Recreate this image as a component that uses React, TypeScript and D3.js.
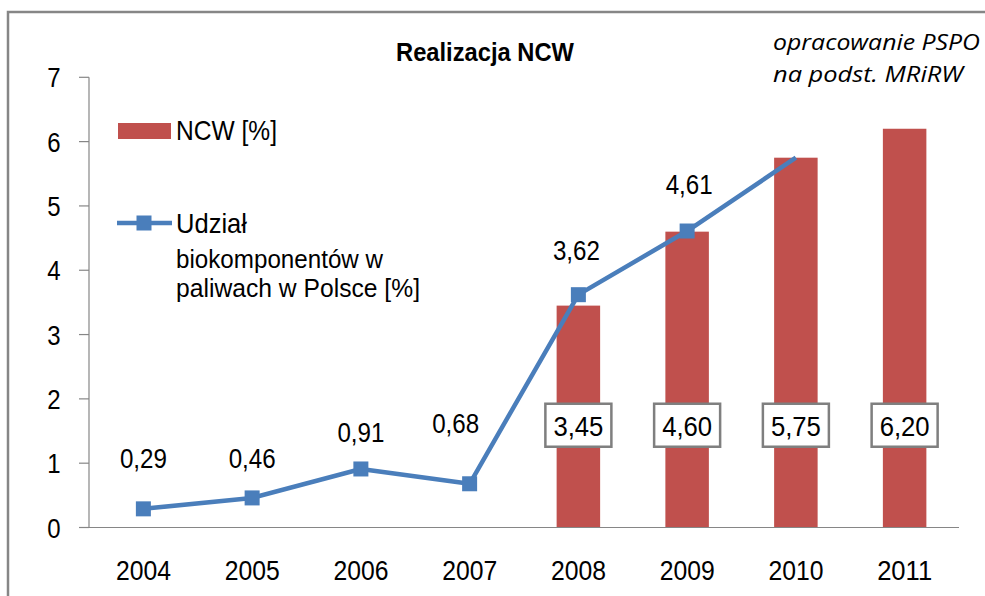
import React from "react";
import * as d3 from "d3";

const years = ["2004", "2005", "2006", "2007", "2008", "2009", "2010", "2011"];
const ncwValues: (number | null)[] = [null, null, null, null, 3.45, 4.6, 5.75, 6.2];
const ncwLabels: (string | null)[] = [null, null, null, null, "3,45", "4,60", "5,75", "6,20"];
const shareValues: (number | null)[] = [0.29, 0.46, 0.91, 0.68, 3.62, 4.61, 5.75, null];
const shareLabels: (string | null)[] = ["0,29", "0,46", "0,91", "0,68", "3,62", "4,61", null, null];
const yTicks = [0, 1, 2, 3, 4, 5, 6, 7];

const title = "Realizacja NCW";
const sourceLines = ["opracowanie PSPO", "na podst. MRiRW"];
const legendBar = "NCW [%]";
const legendLine = ["Udział", "biokomponentów w", "paliwach w Polsce [%]"];

// layout constants (pixels)
const W = 985;
const H = 596;
const PLOT = { left: 89, right: 959, top: 77.3, bottom: 527.5 };
const labelShift: [number, number][] = [
  [0, -51], [0, -40], [0, -37], [-14, -61], [-2, -45], [2, -48], [0, 0], [0, 0],
];
const BOX_VALUE = 1.59;

const RED = "#C0504D";
const BLUE = "#4A7EBB";
const GRAY = "#868686";
const FONT = "'Liberation Sans', Arial, sans-serif";

function T(props: {
  x: number; y: number; text: string; size?: number; len?: number;
  anchor?: string; sy?: number; weight?: string | number; italic?: boolean; family?: string;
}) {
  const { x, y, text, size = 24, len, anchor = "middle", sy = 1.18, weight = "normal", italic = false, family = FONT } = props;
  return (
    <text
      transform={`translate(${x},${y}) scale(1,${sy})`}
      fontSize={size}
      fontFamily={family}
      fontWeight={weight}
      fontStyle={italic ? "italic" : "normal"}
      textAnchor={anchor}
      fill="#000"
      {...(len ? { textLength: len, lengthAdjust: "spacingAndGlyphs" } : {})}
    >
      {text}
    </text>
  );
}

export default function App() {
  const x = d3.scaleBand<string>().domain(years).range([PLOT.left, PLOT.right]).paddingInner(0.6).paddingOuter(0.3);
  const xc = (c: string) => (x(c) as number) + x.bandwidth() / 2;
  const y = d3.scaleLinear().domain([0, 7]).range([PLOT.bottom, PLOT.top]);

  const linePts = years
    .map((c, i) => ({ c, v: shareValues[i], i }))
    .filter((d) => d.v !== null) as { c: string; v: number; i: number }[];
  const lineGen = d3.line<{ c: string; v: number }>().x((d) => xc(d.c)).y((d) => y(d.v));

  const mk = 15;

  return (
    <svg width={W} height={H} style={{ position: "absolute", left: 0, top: 0, background: "#fff" }}>
      <rect x={0} y={0} width={W} height={H} fill="#fff" />
      {/* outer frame */}
      <rect x={8} y={12} width={1000} height={700} fill="none" stroke={GRAY} strokeWidth={2.5} />

      {/* title */}
      <T x={396} y={61} text={title} size={23} len={178} anchor="start" weight="bold" sy={1.12} />

      {/* source note */}
      <T x={773} y={50} text={sourceLines[0]} size={22} len={207} anchor="start" italic family="'Open Sans', sans-serif" sy={1} />
      <T x={773} y={82} text={sourceLines[1]} size={22} len={190} anchor="start" italic family="'Open Sans', sans-serif" sy={1} />

      {/* y axis */}
      <line x1={PLOT.left} x2={PLOT.left} y1={y(7)} y2={y(0)} stroke={GRAY} strokeWidth={1.2} />
      {yTicks.map((t) => (
        <g key={t}>
          <line x1={79} x2={PLOT.left} y1={y(t)} y2={y(t)} stroke={GRAY} strokeWidth={1.2} />
          <T x={54} y={y(t) + 10} text={String(t)} />
        </g>
      ))}

      {/* bars */}
      {years.map((c, i) =>
        ncwValues[i] !== null ? (
          <rect key={c} x={x(c)} y={y(ncwValues[i] as number)} width={x.bandwidth()} height={y(0) - y(ncwValues[i] as number)} fill={RED} />
        ) : null
      )}

      {/* x axis */}
      <line x1={79} x2={PLOT.right} y1={y(0)} y2={y(0)} stroke={GRAY} strokeWidth={1.2} />
      {years.map((c) => (
        <T key={c} x={xc(c)} y={579.5} text={c} len={55} />
      ))}

      {/* line */}
      <path d={lineGen(linePts) || ""} fill="none" stroke={BLUE} strokeWidth={4.5} strokeLinejoin="round" />
      {linePts.filter((d) => shareLabels[d.i] !== null).map((d) => (
        <rect key={d.c} x={xc(d.c) - mk / 2} y={y(d.v) - mk / 2} width={mk} height={mk} fill={BLUE} />
      ))}
      {linePts.filter((d) => shareLabels[d.i] !== null).map((d) => (
        <T key={d.c} x={xc(d.c) + labelShift[d.i][0]} y={y(d.v) + labelShift[d.i][1] + 10.5} text={shareLabels[d.i] as string} len={47} />
      ))}

      {/* NCW value boxes */}
      {years.map((c, i) =>
        ncwLabels[i] !== null ? (
          <g key={c}>
            <rect x={xc(c) - 33} y={y(BOX_VALUE) - 21.5} width={66} height={43} fill="#fff" stroke="#7F7F7F" strokeWidth={2.5} />
            <T x={xc(c)} y={y(BOX_VALUE) + 10.5} text={ncwLabels[i] as string} len={50} />
          </g>
        ) : null
      )}

      {/* legend */}
      <rect x={118} y={123} width={53} height={16} fill={RED} />
      <T x={176} y={140} text={legendBar} len={101} anchor="start" sy={1.15} />
      <line x1={117} x2={172} y1={223} y2={223} stroke={BLUE} strokeWidth={4.5} />
      <rect x={144 - mk / 2} y={223 - mk / 2} width={mk} height={mk} fill={BLUE} />
      <T x={176} y={233} text={legendLine[0]} len={71} anchor="start" sy={1.15} />
      <T x={176} y={268} text={legendLine[1]} len={207} anchor="start" sy={1.1} />
      <T x={176} y={297} text={legendLine[2]} len={244} anchor="start" sy={1.1} />
    </svg>
  );
}
